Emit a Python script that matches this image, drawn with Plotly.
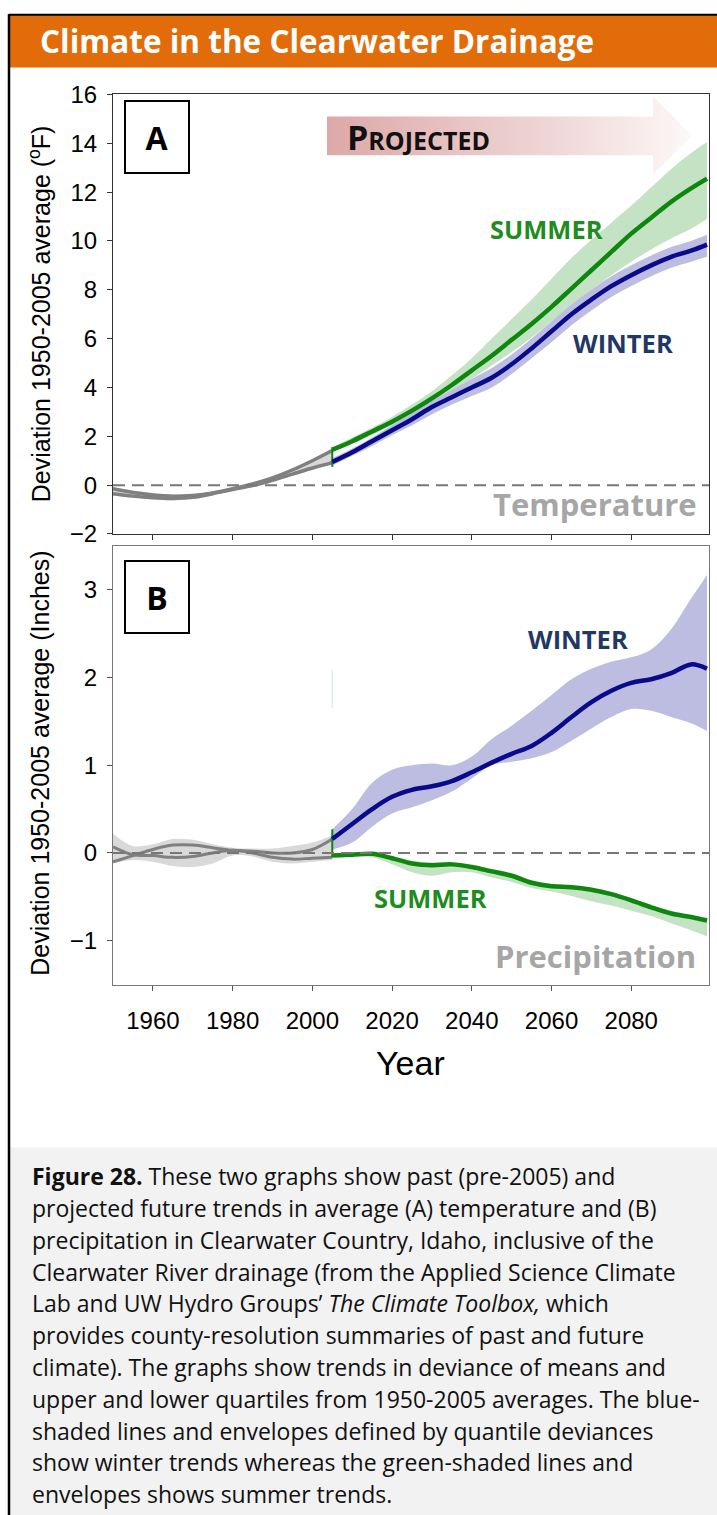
import plotly.graph_objects as go

W = 717
SHIFT = 12.5    # the rendered page starts this far down
SCALE = 0.9833  # and is squeezed this much vertically
FH = 1528       # figure height in page pixels


def px(x):
    return x / W


def py(y):
    return 1 - ((y - SHIFT) / SCALE) / FH


# ---- data: historical (1950-2005) ----
hist_years = [1950, 1955, 1960, 1965, 1970, 1975, 1980, 1985, 1990, 1995, 2000, 2005]
temp_hist_1 = [-0.15, -0.3, -0.4, -0.45, -0.42, -0.32, -0.15, 0.05, 0.3, 0.62, 1.0, 1.42]
temp_hist_2 = [-0.35, -0.45, -0.52, -0.55, -0.5, -0.35, -0.18, -0.02, 0.2, 0.45, 0.7, 0.92]
temp_hist_hi = [-0.08, -0.22, -0.32, -0.38, -0.36, -0.26, -0.1, 0.1, 0.36, 0.7, 1.08, 1.5]
temp_hist_lo = [-0.42, -0.52, -0.58, -0.62, -0.57, -0.42, -0.24, -0.08, 0.14, 0.38, 0.62, 0.85]

prcp_hist_1 = [0.07, -0.02, -0.03, -0.05, -0.04, 0.0, 0.03, 0.0, -0.05, -0.07, -0.06, -0.05]
prcp_hist_2 = [-0.1, -0.03, 0.04, 0.09, 0.09, 0.06, 0.03, 0.02, 0.0, 0.0, 0.04, 0.16]
prcp_hist_hi = [0.22, 0.08, 0.1, 0.16, 0.15, 0.1, 0.06, 0.05, 0.05, 0.08, 0.12, 0.2]
prcp_hist_lo = [-0.12, -0.08, -0.1, -0.15, -0.16, -0.12, -0.03, -0.04, -0.1, -0.12, -0.1, -0.08]

# ---- data: projected (2005-2099) ----
proj_years = [2005, 2010, 2015, 2020, 2025, 2030, 2035, 2040, 2045, 2050,
              2055, 2060, 2065, 2070, 2075, 2080, 2085, 2090, 2095, 2099]

temp_summer = [1.45, 1.8, 2.2, 2.6, 3.05, 3.55, 4.1, 4.7, 5.3, 5.95,
               6.6, 7.3, 8.05, 8.8, 9.55, 10.3, 10.95, 11.6, 12.15, 12.55]
temp_summer_hi = [1.55, 1.95, 2.35, 2.8, 3.3, 3.85, 4.5, 5.2, 6.0, 6.8,
                  7.6, 8.45, 9.3, 10.05, 10.75, 11.45, 12.2, 12.95, 13.6, 14.05]
temp_summer_lo = [1.35, 1.7, 2.05, 2.45, 2.9, 3.35, 3.8, 4.35, 4.9, 5.45,
                  6.05, 6.7, 7.35, 8.0, 8.6, 9.15, 9.65, 10.1, 10.5, 10.9]

temp_winter = [0.95, 1.35, 1.8, 2.25, 2.7, 3.2, 3.6, 4.0, 4.4, 4.95,
               5.6, 6.3, 7.0, 7.6, 8.15, 8.6, 9.0, 9.35, 9.6, 9.85]
temp_winter_hi = [1.1, 1.5, 1.95, 2.45, 2.95, 3.45, 3.9, 4.35, 4.8, 5.35,
                  6.0, 6.7, 7.4, 8.0, 8.55, 9.0, 9.4, 9.75, 10.0, 10.25]
temp_winter_lo = [0.8, 1.2, 1.6, 2.05, 2.45, 2.9, 3.3, 3.65, 4.0, 4.55,
                  5.2, 5.85, 6.55, 7.15, 7.7, 8.15, 8.55, 8.9, 9.15, 9.35]

prcp_winter = [0.16, 0.33, 0.5, 0.64, 0.72, 0.76, 0.82, 0.92, 1.03, 1.13,
               1.22, 1.37, 1.55, 1.72, 1.85, 1.94, 1.98, 2.05, 2.15, 2.1]
prcp_winter_hi = [0.27, 0.5, 0.8, 0.95, 1.0, 1.02, 1.0, 1.1, 1.3, 1.45,
                  1.62, 1.8, 1.98, 2.1, 2.18, 2.23, 2.32, 2.55, 2.9, 3.17]
prcp_winter_lo = [0.04, 0.12, 0.3, 0.45, 0.52, 0.6, 0.7, 0.85, 1.0, 1.04,
                  1.08, 1.15, 1.28, 1.42, 1.55, 1.64, 1.62, 1.55, 1.48, 1.39]

prcp_summer = [-0.03, -0.02, -0.01, -0.06, -0.12, -0.14, -0.13, -0.16, -0.21, -0.26,
               -0.34, -0.38, -0.39, -0.42, -0.47, -0.54, -0.62, -0.69, -0.73, -0.77]
prcp_summer_hi = [-0.01, 0.0, 0.0, -0.04, -0.09, -0.11, -0.11, -0.14, -0.18, -0.23,
                  -0.31, -0.35, -0.37, -0.4, -0.45, -0.51, -0.59, -0.66, -0.71, -0.74]
prcp_summer_lo = [-0.04, -0.03, -0.05, -0.13, -0.22, -0.26, -0.22, -0.22, -0.28, -0.33,
                  -0.4, -0.44, -0.49, -0.55, -0.6, -0.66, -0.72, -0.8, -0.88, -0.95]

year_ticks = [1960, 1980, 2000, 2020, 2040, 2060, 2080]

caption_lines = [
    "<b>Figure 28.</b> These two graphs show past (pre-2005) and",
    "projected future trends in average (A) temperature and (B)",
    "precipitation in Clearwater Country, Idaho, inclusive of the",
    "Clearwater River drainage (from the Applied Science Climate",
    "Lab and UW Hydro Groups\u2019 <i>The Climate Toolbox,</i> which",
    "provides county-resolution summaries of past and future",
    "climate). The graphs show trends in deviance of means and",
    "upper and lower quartiles from 1950-2005 averages. The blue-",
    "shaded lines and envelopes defined by quantile deviances",
    "show winter trends whereas the green-shaded lines and",
    "envelopes shows summer trends.",
]

# colours
ORANGE = "#E26B0A"
GREEN = "#0F870F"
GREEN_BAND = "#C4E3C4"
NAVY = "#0A0A8C"
BLUE_BAND = "#BCBDE0"
GRAY = "#808080"
GRAY_BAND = "#D9D9D9"
SANS = "Open Sans"
ARIAL = "Liberation Sans, Arial"

fig = go.Figure()


def band(x, hi, lo, color, xa, ya):
    fig.add_trace(go.Scatter(x=x, y=hi, mode="lines", line=dict(width=0, shape="spline"),
                             xaxis=xa, yaxis=ya, showlegend=False, hoverinfo="skip"))
    fig.add_trace(go.Scatter(x=x, y=lo, mode="lines", line=dict(width=0, shape="spline"),
                             fill="tonexty", fillcolor=color,
                             xaxis=xa, yaxis=ya, showlegend=False, hoverinfo="skip"))


def curve(x, y, color, width, xa, ya):
    fig.add_trace(go.Scatter(x=x, y=y, mode="lines", line=dict(color=color, width=width, shape="spline"),
                             xaxis=xa, yaxis=ya, showlegend=False))


# ---- Panel A: temperature ----
band(hist_years, temp_hist_hi, temp_hist_lo, GRAY_BAND, "x", "y")
band(proj_years, temp_summer_hi, temp_summer_lo, GREEN_BAND, "x", "y")
band(proj_years, temp_winter_hi, temp_winter_lo, BLUE_BAND, "x", "y")
curve(hist_years, temp_hist_1, GRAY, 3.5, "x", "y")
curve(hist_years, temp_hist_2, GRAY, 3.5, "x", "y")
curve([2005, 2005], [0.75, 1.55], GREEN, 2, "x", "y")
curve(proj_years, temp_summer, GREEN, 4.5, "x", "y")
curve(proj_years, temp_winter, NAVY, 4.5, "x", "y")

# ---- Panel B: precipitation ----
band(hist_years, prcp_hist_hi, prcp_hist_lo, GRAY_BAND, "x2", "y2")
band(proj_years, prcp_summer_hi, prcp_summer_lo, GREEN_BAND, "x2", "y2")
band(proj_years, prcp_winter_hi, prcp_winter_lo, BLUE_BAND, "x2", "y2")
curve(hist_years, prcp_hist_1, GRAY, 3, "x2", "y2")
curve(hist_years, prcp_hist_2, GRAY, 3, "x2", "y2")
curve([2005, 2005], [-0.05, 0.27], GREEN, 2, "x2", "y2")
curve([2005, 2005], [1.65, 2.1], "#E6F2E6", 1.5, "x2", "y2")
curve(proj_years, prcp_summer, GREEN, 4.5, "x2", "y2")
curve(proj_years, prcp_winter, NAVY, 4.5, "x2", "y2")

# ---- "Projected" arrow on a pixel overlay (reference pixel units) ----
arrow_x = [327, 653, 653, 692, 653, 653, 327, 327]
arrow_y = [115, 115, 95, 134, 173, 154, 154, 115]
fig.add_trace(go.Scatter(
    x=arrow_x, y=arrow_y, mode="lines", line=dict(width=0),
    fill="toself",
    fillgradient=dict(type="horizontal",
                      colorscale=[[0, "#DDA8A8"], [0.6, "#EFD5D5"], [1, "#FDF8F8"]]),
    xaxis="x3", yaxis="y3", showlegend=False, hoverinfo="skip"))

axis_common = dict(
    showgrid=False, zeroline=False, showline=True, mirror=True,
    ticks="outside", ticklen=5, tickwidth=1,
    tickfont=dict(family=ARIAL, size=24, color="#000"),
)

fig.update_layout(
    width=W, height=FH, autosize=False,
    margin=dict(l=0, r=0, t=0, b=0),
    paper_bgcolor="white", plot_bgcolor="rgba(0,0,0,0)",
    showlegend=False,
    xaxis=dict(axis_common, domain=[px(113), px(709)], range=[1950, 2099.5],
               tickvals=year_ticks, showticklabels=False, anchor="y",
               linecolor="#333", tickcolor="#333"),
    yaxis=dict(axis_common, domain=[py(533), py(93)], range=[-2, 16], dtick=2,
               anchor="x", linecolor="#333", tickcolor="#333", ticklabelstandoff=5),
    xaxis2=dict(axis_common, domain=[px(113), px(709)], range=[1950, 2099.5],
                tickvals=year_ticks, anchor="y2", linecolor="#777", tickcolor="#555",
                ticklabelstandoff=10),
    yaxis2=dict(axis_common, domain=[py(984), py(545)], range=[-1.5, 3.5],
                tickvals=[-1, 0, 1, 2, 3], anchor="x2", linecolor="#777", tickcolor="#555",
                ticklabelstandoff=5),
    xaxis3=dict(domain=[0, 1], range=[0, W], visible=False, anchor="y3", fixedrange=True),
    yaxis3=dict(domain=[0, 1], range=[SHIFT + SCALE * FH, SHIFT], visible=False,
                anchor="x3", fixedrange=True),
)

shapes = [
    # caption background
    dict(type="rect", xref="paper", yref="paper", x0=px(10), x1=1, y0=0, y1=py(1147),
         fillcolor="#F2F2F2", line=dict(width=0), layer="below"),
    # title bar
    dict(type="rect", xref="paper", yref="paper", x0=px(9), x1=1, y0=py(66), y1=1,
         fillcolor=ORANGE, line=dict(width=0)),
    # frame lines
    dict(type="line", xref="paper", yref="paper", x0=px(9), x1=px(9), y0=0, y1=1,
         line=dict(color="#000", width=2.5)),
    dict(type="line", xref="paper", yref="paper", x0=px(9), x1=1, y0=0.9995, y1=0.9995,
         line=dict(color="#000", width=2)),
    # zero lines
    dict(type="line", xref="x domain", yref="y", x0=0, x1=1, y0=0, y1=0,
         line=dict(color="#777", width=2, dash="12px,7px")),
    dict(type="line", xref="x2 domain", yref="y2", x0=0, x1=1, y0=0, y1=0,
         line=dict(color="#777", width=2, dash="12px,7px")),
]
fig.update_layout(shapes=shapes)

ann = []


def label(text, x, y, size, color, family=SANS, xanchor="center", **kw):
    ann.append(dict(text=text, x=px(x), y=py(y), xref="paper", yref="paper",
                    xanchor=xanchor, yanchor="middle", showarrow=False,
                    font=dict(family=family, size=size, color=color), **kw))


label("<b>Climate in the Clearwater Drainage</b>", 38, 39, 31.5, "white", xanchor="left")
label("<b>A</b>", 156.5, 136, 32, "#000", width=60, height=68,
      bordercolor="#000", borderwidth=2, bgcolor="white")
label("<b>B</b>", 156.5, 596, 32, "#000", width=60, height=68,
      bordercolor="#000", borderwidth=2, bgcolor="white")
label("<b>P<span style='font-size:25px'>ROJECTED</span></b>", 345, 136, 34, "#111",
      xanchor="left")
label("<b>SUMMER</b>", 546, 228, 25.5, "#1E8C1E")
label("<b>WINTER</b>", 623, 342, 25.5, "#1F3864")
label("<b>Temperature</b>", 595, 503, 31, "#A6A6A6")
label("<b>WINTER</b>", 578, 638, 25.5, "#1F3864")
label("<b>SUMMER</b>", 431, 897, 25.5, "#1E8C1E")
label("<b>Precipitation</b>", 595, 955, 31, "#A6A6A6")
label("Deviation 1950-2005 average (<sup>o</sup>F)", 40, 313, 25, "#000",
      family=ARIAL, textangle=-90)
label("Deviation 1950-2005 average (Inches)", 40, 763, 25, "#000",
      family=ARIAL, textangle=-90)
label("Year", 410, 1063, 34, "#000", family=ARIAL)

for i, line in enumerate(caption_lines):
    label(line, 30, 1176 + 31.8 * i, 23, "#111", xanchor="left")

fig.update_layout(annotations=ann)

fig.write_html("out.html", config={"displayModeBar": False},
               post_script="document.body.style.margin = '0px';")
